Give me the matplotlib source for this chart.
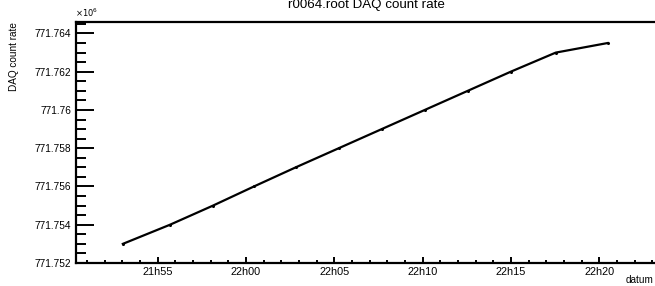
import datetime as dt
import matplotlib
matplotlib.use("Agg")
import matplotlib.pyplot as plt
import matplotlib.dates as mdates
from matplotlib.ticker import MultipleLocator, FuncFormatter

# sample times (hh:mm:ss) and DAQ count rate in units of 1e6
times = ["21:53:02", "21:55:42", "21:58:08", "22:00:27", "22:02:49", "22:05:15",
         "22:07:41", "22:10:07", "22:12:33", "22:14:59", "22:17:32", "22:20:28"]
rate = [771.753, 771.754, 771.755, 771.756, 771.757, 771.758,
        771.759, 771.760, 771.761, 771.762, 771.763, 771.7635]


def to_dt(s):
    h, m, sec = map(int, s.split(":"))
    return dt.datetime(2000, 1, 1, h, m, sec)


x = [to_dt(t) for t in times]

plt.rcParams["font.family"] = ["Liberation Sans", "DejaVu Sans"]

fig = plt.figure(figsize=(6.55, 2.86), dpi=100)
ax = fig.add_axes([76 / 655, 23 / 286, 1 - 76 / 655, 241 / 286])

ax.plot(x, rate, color="black", lw=1.6, marker="o", ms=1.2)

ax.set_xlim(to_dt("21:50:23"), to_dt("22:23:09"))
ax.set_ylim(771.752, 771.7646)

ax.xaxis.set_major_locator(mdates.MinuteLocator(byminute=range(0, 60, 5)))
ax.xaxis.set_minor_locator(mdates.MinuteLocator())
ax.xaxis.set_major_formatter(mdates.DateFormatter("%Hh%M"))

ax.yaxis.set_major_locator(MultipleLocator(0.002))
ax.yaxis.set_minor_locator(MultipleLocator(0.0005))
ax.yaxis.set_major_formatter(FuncFormatter(lambda v, p: f"{v:.6f}".rstrip("0").rstrip(".")))

ax.tick_params(axis="both", which="both", direction="in", width=1.4)
ax.tick_params(axis="y", which="major", length=13, pad=3.5, labelsize=7.3)
ax.tick_params(axis="y", which="minor", length=7)
ax.tick_params(axis="x", which="major", length=4.5, pad=3, labelsize=7.8)
ax.tick_params(axis="x", which="minor", length=2.3)

for side in ["left", "bottom", "top"]:
    ax.spines[side].set_linewidth(1.6)
ax.spines["right"].set_visible(False)

fig.text(366 / 655, 1 - 8 / 286, "r0064.root DAQ count rate", ha="center",
         va="baseline", fontsize=9.6)
fig.text(75 / 655, 1 - 17 / 286, r"$\times10^{6}$", ha="left", va="baseline",
         fontsize=6)
fig.text(654 / 655, 1 - 283 / 286, "datum", ha="right", va="baseline", fontsize=7.2)
fig.text(14 / 655, 1 - 22 / 286, "DAQ count rate", ha="center", va="top",
         rotation=90, fontsize=7.2)

fig.savefig("out.png", dpi=100)
